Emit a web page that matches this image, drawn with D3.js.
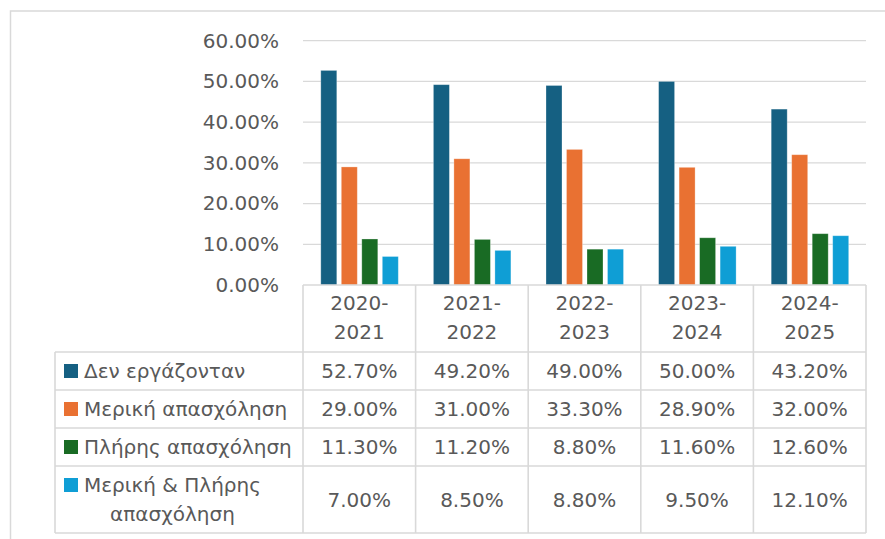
<!DOCTYPE html>
<html>
<head>
<meta charset="utf-8">
<script src="https://cdn.jsdelivr.net/npm/d3@7"></script>
<style>
  body { margin: 0; background: #fff; }
  svg text { font-family: "DejaVu Sans", sans-serif; fill: #595959; }
</style>
</head>
<body>
<script>
// Data
var years = ["2020-2021", "2021-2022", "2022-2023", "2023-2024", "2024-2025"];
var seriesNames = ["Δεν εργάζονταν", "Μερική απασχόληση", "Πλήρης απασχόληση", "Μερική & Πλήρης απασχόληση"];
var notWorking = [52.7, 49.2, 49.0, 50.0, 43.2];
var partTime = [29.0, 31.0, 33.3, 28.9, 32.0];
var fullTime = [11.3, 11.2, 8.8, 11.6, 12.6];
var partAndFull = [7.0, 8.5, 8.8, 9.5, 12.1];
var yTicks = [0, 10, 20, 30, 40, 50, 60];

var seriesValues = [notWorking, partTime, fullTime, partAndFull];
var colors = ["#156082", "#e97132", "#196b24", "#0f9ed5"];

var width = 885, height = 539;
var fontSize = 20;
var gridColor = "#d9d9d9";

var svg = d3.select("body").append("svg")
    .attr("width", width)
    .attr("height", height);

// Outer chart frame (cropped)
svg.append("path")
    .attr("d", "M10.5,539 V11 H885")
    .attr("fill", "none")
    .attr("stroke", gridColor)
    .attr("stroke-width", 1.5);

// Scales
var x0 = d3.scaleBand().domain(years).range([303, 866]);
var x1 = d3.scaleBand().domain(d3.range(4)).range([17.8, 95.3]).paddingInner(0.22);
var y = d3.scaleLinear().domain([0, 60]).range([285, 40.7]);

// Gridlines
svg.append("g").selectAll("line")
    .data(yTicks.slice(1))
  .enter().append("line")
    .attr("x1", 303).attr("x2", 866)
    .attr("y1", function(d) { return y(d); })
    .attr("y2", function(d) { return y(d); })
    .attr("stroke", gridColor)
    .attr("stroke-width", 1.3);

// Y axis labels
var yAxis = d3.axisLeft(y).tickValues(yTicks)
    .tickFormat(function(d) { return d.toFixed(2) + "%"; })
    .tickSize(0).tickPadding(0);
var yg = svg.append("g")
    .attr("transform", "translate(279,0)")
    .call(yAxis);
yg.select(".domain").remove();
yg.selectAll("text")
    .style("font-size", fontSize + "px")
    .style("font-family", null)
    .attr("fill", null);

// Bars
var groups = svg.append("g").selectAll("g")
    .data(years)
  .enter().append("g")
    .attr("transform", function(d) { return "translate(" + x0(d) + ",0)"; });

groups.selectAll("rect")
    .data(function(d, i) { return seriesValues.map(function(s, k) { return {k: k, v: s[i]}; }); })
  .enter().append("rect")
    .attr("x", function(d) { return x1(d.k); })
    .attr("width", x1.bandwidth())
    .attr("y", function(d) { return y(d.v); })
    .attr("height", function(d) { return y(0) - y(d.v); })
    .attr("fill", function(d) { return colors[d.k]; })
    .attr("stroke", "rgba(255,255,255,0.35)")
    .attr("stroke-width", 0.8);

// Data table
var rowTops = [352, 390, 428, 466, 533];
var tableLeft = 55, tableRight = 866, headerTop = 285;
var table = svg.append("g")
    .attr("stroke", gridColor)
    .attr("stroke-width", 1.6)
    .attr("fill", "none");

// horizontal lines
table.append("line").attr("x1", 303).attr("x2", tableRight).attr("y1", headerTop).attr("y2", headerTop);
rowTops.forEach(function(t) {
  table.append("line").attr("x1", tableLeft).attr("x2", tableRight).attr("y1", t).attr("y2", t);
});
// vertical lines
table.append("line").attr("x1", tableLeft).attr("x2", tableLeft).attr("y1", rowTops[0]).attr("y2", rowTops[4]);
years.forEach(function(yr) {
  var xl = x0(yr);
  table.append("line").attr("x1", xl).attr("x2", xl).attr("y1", headerTop).attr("y2", rowTops[4]);
});
table.append("line").attr("x1", tableRight).attr("x2", tableRight).attr("y1", headerTop).attr("y2", rowTops[4]);

// Header labels (category axis)
years.forEach(function(yr) {
  var parts = yr.split("-");
  var cx = x0(yr) + x0.bandwidth() / 2;
  var t = svg.append("text")
      .attr("text-anchor", "middle")
      .style("font-size", fontSize + "px");
  t.append("tspan").attr("x", cx).attr("y", 302.5).attr("dy", "0.35em").text(parts[0] + "-");
  t.append("tspan").attr("x", cx).attr("y", 332).attr("dy", "0.35em").text(parts[1]);
});

// Row values
seriesValues.forEach(function(s, k) {
  var cy = (rowTops[k] + rowTops[k + 1]) / 2;
  years.forEach(function(yr, i) {
    svg.append("text")
        .attr("x", x0(yr) + x0.bandwidth() / 2)
        .attr("y", cy)
        .attr("dy", "0.35em")
        .attr("text-anchor", "middle")
        .style("font-size", fontSize + "px")
        .text(s[i].toFixed(2) + "%");
  });
});

// Row legend keys and names
seriesNames.forEach(function(name, k) {
  if (k < 3) {
    var cy = (rowTops[k] + rowTops[k + 1]) / 2;
    svg.append("rect")
        .attr("x", 64).attr("y", cy - 7)
        .attr("width", 14).attr("height", 14)
        .attr("fill", colors[k]);
    svg.append("text")
        .attr("x", 84).attr("y", cy).attr("dy", "0.35em")
        .style("font-size", fontSize + "px")
        .text(name);
  } else {
    svg.append("rect")
        .attr("x", 64).attr("y", 478)
        .attr("width", 14).attr("height", 14)
        .attr("fill", colors[k]);
    var words = name.split(" ");
    var line1 = words.slice(0, 3).join(" "), line2 = words.slice(3).join(" ");
    var t1 = svg.append("text")
        .attr("x", 84).attr("y", 485).attr("dy", "0.35em")
        .style("font-size", fontSize + "px")
        .text(line1);
    var w1 = t1.node().getComputedTextLength();
    svg.append("text")
        .attr("x", 84 + w1 / 2).attr("y", 514).attr("dy", "0.35em")
        .attr("text-anchor", "middle")
        .style("font-size", fontSize + "px")
        .text(line2);
  }
});
</script>
</body>
</html>
